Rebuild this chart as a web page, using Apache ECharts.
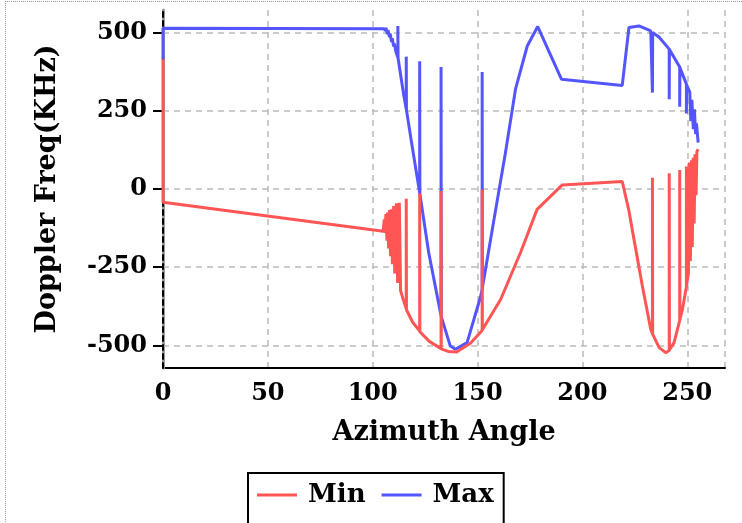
<!DOCTYPE html>
<html>
<head>
<meta charset="utf-8">
<script src="https://cdn.jsdelivr.net/npm/echarts@6/dist/echarts.min.js"></script>
<style>
  html, body { margin: 0; padding: 0; background: #fff; }
  #frame { position: absolute; left: 5px; top: 1px; width: 760px; height: 560px;
           border-top: 1px dotted #999; border-left: 1px dotted #999; }
  #chart { position: absolute; left: 0; top: 0; width: 742px; height: 523px; }
</style>
</head>
<body>
<div id="frame"></div>
<div id="chart"></div>
<script>
// Min doppler frequency (red) vs azimuth angle
const minAngle = [0, 0, 105, 105.5, 105.8, 106.3, 106.8, 107, 107.6, 108, 108.5, 108.9, 109.4, 110, 110.5,
  111.3, 111.9, 112.7, 113.3, 114.5, 116, 116, 116.1, 119, 122.4, 122.4, 122.5, 127, 132.6, 132.6, 132.7,
  136, 140, 146.6, 152.2, 152.2, 152.3, 161, 170.5, 178.4, 190.4, 219, 222.2, 224.6, 228.6, 232.6,
  233.4, 233.4, 233.5, 236.6, 239.7, 241.4, 241.4, 241.5, 243.7, 246.4, 246.4, 246.5, 247.7, 249.6,
  249.6, 249.7, 250.6, 251, 251.5, 252, 252.4, 252.8, 253.3, 253.7, 254.2, 254.6, 255.2];
const minFreq = [415, -42, -135, -97, -140, -80, -165, -75, -190, -67, -215, -65, -240, -54, -270,
  -46, -300, -44, -325, -352, -383, -31, -386, -425, -454, -14, -456, -487, -510, -6, -511,
  -519, -521, -493, -452, -2, -450, -353, -203, -65, 13, 24, -70, -161, -310, -449,
  -462, 36, -464, -507, -523, -516, 50, -514, -491, -420, 61, -417, -385, -312,
  72, -307, -268, 85, -230, 92, -185, 100, -110, 111, -20, 120, 127];

// Max doppler frequency (blue) vs azimuth angle
const maxAngle = [0, 0, 105.5, 106, 106.3, 107, 107.3, 108, 108.3, 109, 109.3, 110, 110.3, 111, 111.5,
  112, 112, 112.1, 114.8, 116, 116, 116.1, 118.8, 122.4, 122.4, 122.5, 126.7, 132.3, 132.6, 132.6,
  132.7, 137, 139.4, 145, 151.4, 152.2, 152.2, 152.3, 157, 163.3, 168.1, 173.7, 178.7, 190, 219,
  222.2, 227, 232.6, 233.4, 233.4, 233.5, 236.6, 241.4, 241.4, 241.5, 246.4, 246.4, 246.5, 249.6,
  249.6, 249.7, 251.2, 251.7, 252.2, 252.9, 253.4, 254, 254.4, 255.2];
const maxFreq = [415, 514, 512, 505, 515, 495, 508, 485, 497, 470, 482, 455, 465, 440, 430,
  420, 521, 418, 300, 255, 423, 252, 137, -12, 408, -16, -203, -395, -405, 390,
  -408, -502, -512, -491, -345, -320, 374, -316, -130, 116, 319, 457, 519, 351, 331,
  516, 521, 505, 501, 308, 500, 485, 447, 287, 446, 390, 263, 388, 335,
  241, 333, 310, 217, 285, 191, 255, 175, 210, 148];

const xTicks = [0, 50, 100, 150, 200, 250];
const yTicks = [-500, -250, 0, 250, 500];

const font = 'DejaVu Serif';
const pairs = (xs, ys) => xs.map((x, i) => [x, ys[i]]);

const chart = echarts.init(document.getElementById('chart'));
chart.setOption({
  animation: false,
  backgroundColor: 'transparent',
  textStyle: { fontFamily: font },
  grid: { left: 163, right: 17, top: 10, bottom: 155 },
  legend: {
    data: [{ name: 'Min', icon: 'rect' }, { name: 'Max', icon: 'rect' }],
    left: 248,
    top: 473,
    padding: [9, 10, 40, 9],
    itemGap: 16,
    itemWidth: 40,
    itemHeight: 3,
    borderColor: '#000',
    borderWidth: 2,
    textStyle: { fontFamily: font, fontSize: 26, fontWeight: 'bold', color: '#000', padding: [0, 0, 0, 6] }
  },
  xAxis: {
    type: 'value',
    min: 0,
    max: 268,
    interval: 50,
    name: 'Azimuth Angle',
    nameLocation: 'middle',
    nameGap: 51,
    nameTextStyle: { fontFamily: font, fontSize: 27, fontWeight: 'bold', color: '#000' },
    axisLine: { onZero: false, lineStyle: { color: '#000', width: 2 } },
    axisTick: { show: false },
    axisLabel: {
      fontFamily: font, fontSize: 24, fontWeight: 'bold', color: '#000', margin: 14,
      customValues: xTicks
    },
    splitLine: { show: true, lineStyle: { color: '#bbb', width: 1.5, type: [6, 5] } }
  },
  yAxis: [{
    type: 'value',
    min: -572,
    max: 572,
    z: 3,
    name: 'Doppler Freq(KHz)',
    nameLocation: 'middle',
    nameGap: 102,
    nameTextStyle: { fontFamily: font, fontSize: 27, fontWeight: 'bold', color: '#000' },
    axisLine: { onZero: false, lineStyle: { color: '#000', width: 2, type: [5, 4] } },
    axisTick: { customValues: yTicks, length: 10, lineStyle: { color: '#000', width: 2 } },
    axisLabel: {
      customValues: yTicks,
      fontFamily: font, fontSize: 24, fontWeight: 'bold', color: '#000', margin: 16
    },
    splitLine: { show: true, lineStyle: { color: '#bbb', width: 1.5, type: [6, 5] } }
  }, {
    type: 'value',
    min: -572,
    max: 572,
    position: 'left',
    z: 1,
    axisLine: { show: true, onZero: false, lineStyle: { color: '#999', width: 3 } },
    axisTick: { show: false },
    axisLabel: { show: false },
    splitLine: { show: false }
  }],
  series: [
    {
      name: 'Max',
      type: 'line',
      symbol: 'none',
      color: '#5555ff',
      lineStyle: { width: 3, color: '#5555ff' },
      data: pairs(maxAngle, maxFreq)
    },
    {
      name: 'Min',
      type: 'line',
      symbol: 'none',
      color: '#ff5555',
      lineStyle: { width: 3, color: '#ff5555' },
      data: pairs(minAngle, minFreq)
    }
  ]
});
</script>
</body>
</html>
